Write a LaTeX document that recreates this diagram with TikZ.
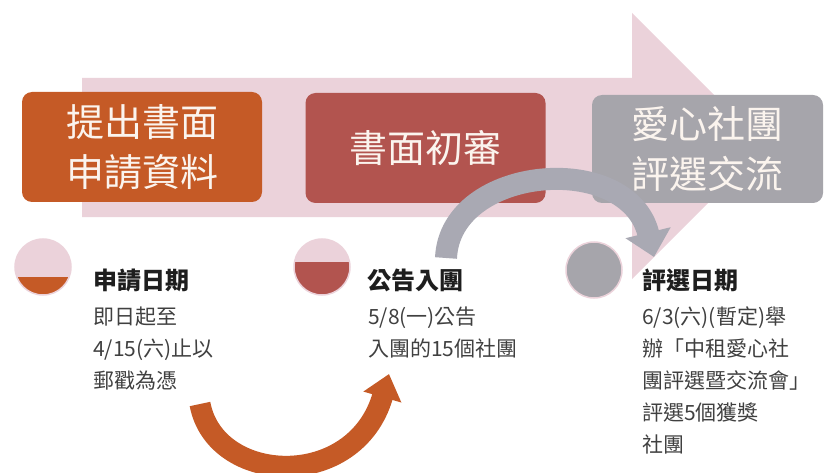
\documentclass[tikz,border=0pt]{standalone}
\usepackage{fontspec}
\setmainfont{Noto Sans CJK TC}
\usetikzlibrary{arrows.meta}

\definecolor{pinkbg}{HTML}{EBD2DA}
\definecolor{step1}{HTML}{C55A26}
\definecolor{step2}{HTML}{B2544F}
\definecolor{step3}{HTML}{A6A5AB}
\definecolor{curvegray}{HTML}{A9A9B3}
\definecolor{boxtext}{HTML}{FBF4EE}
\definecolor{headtxt}{HTML}{1E1E1E}
\definecolor{bodytxt}{HTML}{404040}

\begin{document}
\begin{tikzpicture}[x=1pt, y=-1pt,
    stage/.style={rounded corners=10pt, minimum width=240pt, minimum height=110pt, inner sep=0pt, text=boxtext, align=center, font=\fontsize{38}{50}\selectfont},
    dot/.style={circle, minimum size=56pt, inner sep=0pt, draw=pinkbg, line width=1.5pt},
    datehead/.style={anchor=base west, inner sep=0pt, text=headtxt, font=\bfseries\fontsize{24}{24}\selectfont},
    bodyline/.style={anchor=base west, inner sep=0pt, text=bodytxt, font=\fontsize{21}{21}\selectfont},
    orangecurve/.style={draw=step1, line width=21pt, -{Triangle[width=38pt,length=24pt]}},
    graycurve/.style={draw=curvegray, line width=22pt, -{Triangle[width=45pt,length=25pt]}}]

    \useasboundingbox (0,0) rectangle (824,473);

    % Big arrow behind the stages
    \fill[pinkbg] (82,78) -- (632,78) -- (632,13) -- (765,146) -- (632,279) -- (632,217) -- (82,217) -- cycle;

    % Stages
    \node[stage, fill=step1] (s1) at (142,147) {提出書面\\申請資料};
    \node[stage, fill=step2] (s2) at (425.5,148) {書面初審};
    \node[stage, fill=step3, minimum width=231pt, minimum height=108pt] (s3) at (707.5,149) {愛心社團\\評選交流};

    % Dots
    \node[dot, fill=pinkbg, path picture={\fill[step1] ([yshift=-10pt]path picture bounding box.west) rectangle (path picture bounding box.south east);}] (d1) at (43,267) {};
    \node[dot, fill=pinkbg, path picture={\fill[step2] ([yshift=5pt]path picture bounding box.west) rectangle (path picture bounding box.south east);}] (d2) at (322,267) {};
    \node[dot, fill=step3] (d3) at (594,270) {};

    % Dates
    \node[datehead] (h1) at (93,289) {申請日期};
    \node[datehead] (h2) at (367,289) {公告入團};
    \node[datehead] (h3) at (642,289) {評選日期};

    \foreach \txt [count=\i, evaluate=\i as \yy using 324+32*(\i-1)] in {即日起至, 4/15(六)止以, 郵戳為憑}
        \node[bodyline] (a\i) at (93,\yy) {\txt};
    \foreach \txt [count=\i, evaluate=\i as \yy using 324+32*(\i-1)] in {5/8(一)公告, 入團的15個社團}
        \node[bodyline] (b\i) at (368,\yy) {\txt};
    \foreach \txt [count=\i, evaluate=\i as \yy using 324+32*(\i-1)] in {6/3(六)(暫定)舉, 辦「中租愛心社, 團評選暨交流會」, 評選5個獲獎, 社團}
        \node[bodyline] (c\i) at (642,\yy) {\txt};

    % Curved arrows
    \coordinate (o1) at (200,404);
    \coordinate (o2) at (389,374);
    \draw[orangecurve] (o1) .. controls (215,485) and (355,492) .. (o2);

    \coordinate (g1) at (446,258);
    \coordinate (g2) at (654,257);
    \draw[graycurve] (g1) .. controls (450,165) and (628,150) .. (g2);

\end{tikzpicture}
\end{document}
